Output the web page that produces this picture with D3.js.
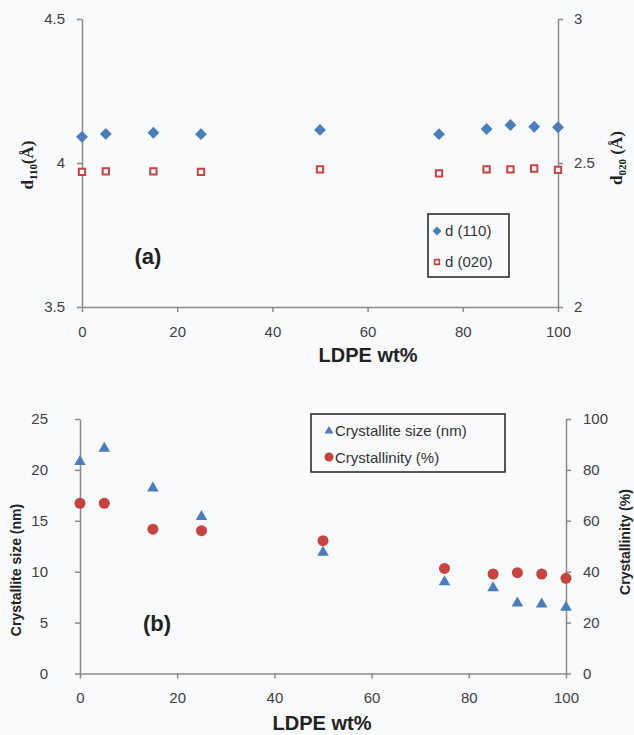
<!DOCTYPE html>
<html>
<head>
<meta charset="utf-8">
<script src="https://cdn.jsdelivr.net/npm/d3@7"></script>
<style>
  body { margin: 0; background: #f9fafc; }
  svg { display: block; }
  .tick text { font-family: "Liberation Sans", Arial, sans-serif; font-size: 15px; fill: #404040; }
  .axis path, .axis line { stroke: #8a8a8a; stroke-width: 1.5; }
</style>
</head>
<body>
<div id="chart"></div>
<script>
// LDPE content of the blends (wt%)
var ldpe = [0, 5, 15, 25, 50, 75, 85, 90, 95, 100];

// panel (a): d-spacings in angstrom
var d110 = [4.091, 4.101, 4.105, 4.100, 4.115, 4.100, 4.118, 4.132, 4.126, 4.124];
var d020 = [2.469, 2.471, 2.471, 2.469, 2.478, 2.464, 2.478, 2.478, 2.481, 2.476];

// panel (b): crystallite size (nm) and crystallinity (%)
var crystSize = [20.8, 22.1, 18.2, 15.4, 11.9, 9.0, 8.4, 6.9, 6.8, 6.5];
var crystallinity = [66.9, 66.9, 56.7, 56.1, 52.2, 41.3, 39.1, 39.6, 39.1, 37.4];

var xTicks = [0, 20, 40, 60, 80, 100];
var aLeftTicks = [3.5, 4, 4.5];
var aRightTicks = [2, 2.5, 3];
var bLeftTicks = [0, 5, 10, 15, 20, 25];
var bRightTicks = [0, 20, 40, 60, 80, 100];

var blue = "#4a7dbd", red = "#c8423f";
var sans = "'Liberation Sans', Arial, sans-serif";
var serif = "'Liberation Serif', 'Times New Roman', serif";

var svg = d3.select("#chart").append("svg")
    .attr("width", 634)
    .attr("height", 735);

function fmt(d) { return String(d); }

// draws the three axes of one panel
function drawAxes(x, yL, yR, ticksL, ticksR, padL, padR) {
  var base = yL.range()[0];
  svg.append("g")
      .attr("class", "axis")
      .attr("transform", "translate(0," + base + ")")
      .call(d3.axisBottom(x).tickValues(xTicks).tickFormat(fmt)
        .tickSize(5).tickSizeOuter(0).tickPadding(14));

  svg.append("g")
      .attr("class", "axis")
      .attr("transform", "translate(" + x.range()[0] + ",0)")
      .call(d3.axisLeft(yL).tickValues(ticksL).tickFormat(fmt)
        .tickSize(5).tickSizeOuter(0).tickPadding(padL));

  svg.append("g")
      .attr("class", "axis")
      .attr("transform", "translate(" + x.range()[1] + ",0)")
      .call(d3.axisRight(yR).tickValues(ticksR).tickFormat(fmt)
        .tickSize(5).tickSizeOuter(0).tickPadding(padR));
}

// ---------- panel (a) ----------
var xa = d3.scaleLinear().domain([0, 100]).range([82, 558]);
var yaL = d3.scaleLinear().domain([3.5, 4.5]).range([307, 19]);
var yaR = d3.scaleLinear().domain([2, 3]).range([307, 19]);

drawAxes(xa, yaL, yaR, aLeftTicks, aRightTicks, 12, 11);

var diamond = d3.symbol().type(d3.symbolSquare).size(70);
var square = d3.symbol().type(d3.symbolSquare).size(40);

svg.append("g").selectAll("path")
    .data(ldpe)
  .enter().append("path")
    .attr("d", diamond)
    .attr("transform", function(d, i) {
      return "translate(" + xa(d) + "," + yaL(d110[i]) + ") rotate(45)";
    })
    .style("fill", blue);

svg.append("g").selectAll("path")
    .data(ldpe)
  .enter().append("path")
    .attr("d", square)
    .attr("transform", function(d, i) {
      return "translate(" + xa(d) + "," + yaR(d020[i]) + ")";
    })
    .style("fill", "#fbfbfd")
    .style("stroke", red)
    .style("stroke-width", 2);

// legend (a)
var legA = svg.append("g");
legA.append("rect")
    .attr("x", 428).attr("y", 214).attr("width", 81).attr("height", 63)
    .style("fill", "none").style("stroke", "#222").style("stroke-width", 1.5);
legA.append("path")
    .attr("d", d3.symbol().type(d3.symbolSquare).size(40))
    .attr("transform", "translate(437,231) rotate(45)")
    .style("fill", blue);
legA.append("path")
    .attr("d", d3.symbol().type(d3.symbolSquare).size(22))
    .attr("transform", "translate(437,262)")
    .style("fill", "#fbfbfd").style("stroke", red).style("stroke-width", 1.6);
legA.selectAll("text")
    .data(["d (110)", "d (020)"])
  .enter().append("text")
    .attr("x", 445)
    .attr("y", function(d, i) { return 236 + i * 31; })
    .style("font-family", sans).style("font-size", "15px").style("fill", "#333")
    .text(function(d) { return d; });

svg.append("text")
    .attr("x", 148).attr("y", 264)
    .style("text-anchor", "middle")
    .style("font-family", sans).style("font-size", "22px").style("font-weight", "bold")
    .style("fill", "#222")
    .text("(a)");

svg.append("text")
    .attr("x", 368).attr("y", 362)
    .style("text-anchor", "middle")
    .style("font-family", sans).style("font-size", "20px").style("font-weight", "bold")
    .style("fill", "#222")
    .text("LDPE wt%");

var labA = svg.append("text")
    .attr("transform", "translate(33,165) rotate(-90)")
    .style("text-anchor", "middle")
    .style("font-family", serif).style("font-size", "17px").style("font-weight", "bold")
    .style("fill", "#222");
labA.append("tspan").text("d");
labA.append("tspan").attr("dy", 4).style("font-size", "11px").text("110");
labA.append("tspan").attr("dy", -4).text("(Å)");

var labA2 = svg.append("text")
    .attr("transform", "translate(622,158) rotate(-90)")
    .style("text-anchor", "middle")
    .style("font-family", serif).style("font-size", "17px").style("font-weight", "bold")
    .style("fill", "#222");
labA2.append("tspan").text("d");
labA2.append("tspan").attr("dy", 4).style("font-size", "11px").text("020");
labA2.append("tspan").attr("dy", -4).text(" (Å)");

// ---------- panel (b) ----------
var xb = d3.scaleLinear().domain([0, 100]).range([80, 566]);
var ybL = d3.scaleLinear().domain([0, 25]).range([673.5, 419]);
var ybR = d3.scaleLinear().domain([0, 100]).range([673.5, 419]);

drawAxes(xb, ybL, ybR, bLeftTicks, bRightTicks, 27, 12);

var triangle = d3.symbol().type(d3.symbolTriangle).size(58);

svg.append("g").selectAll("circle")
    .data(ldpe)
  .enter().append("circle")
    .attr("cx", function(d) { return xb(d); })
    .attr("cy", function(d, i) { return ybR(crystallinity[i]); })
    .attr("r", 5.5)
    .style("fill", red);

svg.append("g").selectAll("path")
    .data(ldpe)
  .enter().append("path")
    .attr("d", triangle)
    .attr("transform", function(d, i) {
      return "translate(" + xb(d) + "," + ybL(crystSize[i]) + ")";
    })
    .style("fill", blue);

// legend (b)
var legB = svg.append("g");
legB.append("rect")
    .attr("x", 311).attr("y", 414).attr("width", 194).attr("height", 58)
    .style("fill", "none").style("stroke", "#222").style("stroke-width", 1.5);
legB.append("path")
    .attr("d", d3.symbol().type(d3.symbolTriangle).size(34))
    .attr("transform", "translate(329,431)")
    .style("fill", blue);
legB.append("circle")
    .attr("cx", 329).attr("cy", 457).attr("r", 4.5)
    .style("fill", red);
legB.selectAll("text")
    .data(["Crystallite size (nm)", "Crystallinity (%)"])
  .enter().append("text")
    .attr("x", 335)
    .attr("y", function(d, i) { return 436 + i * 27; })
    .style("font-family", sans).style("font-size", "15px").style("fill", "#333")
    .text(function(d) { return d; });

svg.append("text")
    .attr("x", 157).attr("y", 631)
    .style("text-anchor", "middle")
    .style("font-family", sans).style("font-size", "22px").style("font-weight", "bold")
    .style("fill", "#222")
    .text("(b)");

svg.append("text")
    .attr("x", 322).attr("y", 730)
    .style("text-anchor", "middle")
    .style("font-family", sans).style("font-size", "20px").style("font-weight", "bold")
    .style("fill", "#222")
    .text("LDPE wt%");

svg.append("text")
    .attr("transform", "translate(21,570) rotate(-90)")
    .style("text-anchor", "middle")
    .style("font-family", sans).style("font-size", "14px").style("font-weight", "bold")
    .style("fill", "#222")
    .text("Crystallite size (nm)");

svg.append("text")
    .attr("transform", "translate(630,542) rotate(-90)")
    .style("text-anchor", "middle")
    .style("font-family", sans).style("font-size", "14px").style("font-weight", "bold")
    .style("fill", "#222")
    .text("Crystallinity (%)");
</script>
</body>
</html>
